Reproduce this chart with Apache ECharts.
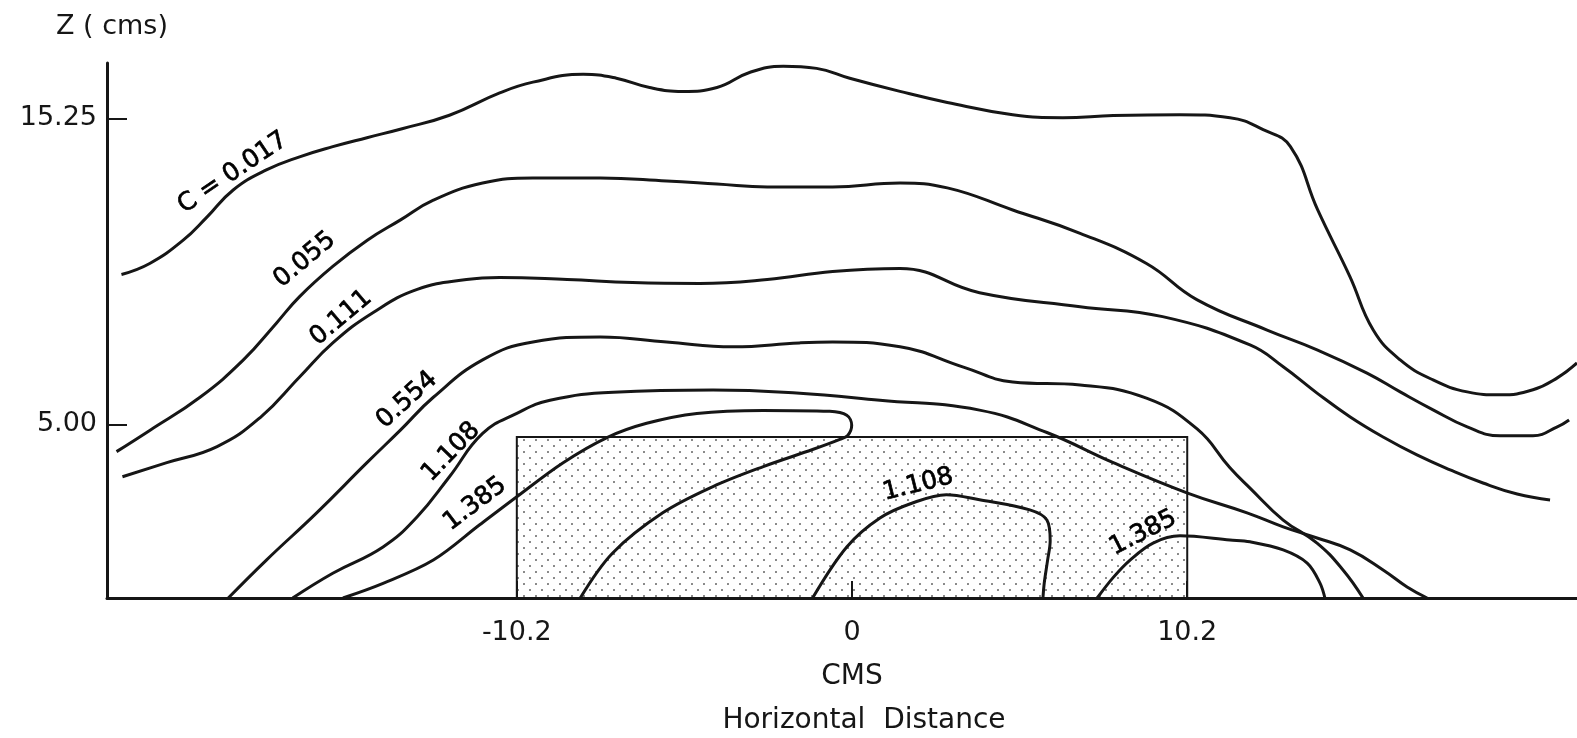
<!DOCTYPE html>
<html><head><meta charset="utf-8">
<script src="https://cdn.jsdelivr.net/npm/echarts@6/dist/echarts.min.js"></script>
<style>html,body{margin:0;padding:0;background:#fff}#c{width:1577px;height:738px}</style>
</head><body><div id="c"></div>
<script>
// ---- data (x: horizontal distance, cms; y: Z, cms) ----
const xTickValues = [-10.2, 0, 10.2];
const yTickValues = [5.00, 15.25];
const xRange = [-22.67, 22.06];
const yRange = [-0.81, 17.10];

const c0017 = [[-22.23,10.02],[-21.37,10.39],[-20.36,11.16],[-19.63,11.94],[-18.83,12.85],[-17.82,13.52],[-16.81,13.96],[-15.80,14.30],[-14.76,14.60],[-13.69,14.90],[-12.25,15.35],[-10.72,16.10],[-9.71,16.46],[-8.18,16.72],[-7.17,16.59],[-6.16,16.28],[-5.15,16.15],[-4.11,16.28],[-3.10,16.79],[-2.09,16.99],[-1.08,16.92],[-0.07,16.59],[1.46,16.15],[2.90,15.78],[4.89,15.37],[6.42,15.27],[7.95,15.34],[9.97,15.37],[11.50,15.27],[12.51,14.87],[13.34,14.30],[14.17,12.18],[15.15,9.95],[15.86,8.16],[16.68,7.16],[17.68,6.49],[18.72,6.09],[19.72,5.99],[20.72,6.16],[21.46,6.56],[22.06,7.06]];
const c0055 = [[-22.38,4.09],[-21.37,4.80],[-19.84,5.91],[-18.52,7.16],[-17.51,8.40],[-16.81,9.28],[-15.80,10.29],[-14.76,11.16],[-13.75,11.84],[-12.74,12.51],[-11.24,13.08],[-9.71,13.25],[-7.66,13.25],[-5.64,13.15],[-4.11,13.05],[-2.58,12.95],[-0.59,12.95],[1.46,13.08],[2.90,12.92],[4.89,12.18],[6.94,11.40],[8.96,10.39],[10.49,9.18],[12.63,8.16],[14.15,7.50],[15.67,6.72],[16.68,6.09],[17.68,5.49],[18.72,4.92],[19.72,4.62],[20.72,4.62],[21.46,4.92],[21.82,5.15]];
const c0111 = [[-22.20,3.25],[-20.85,3.72],[-19.32,4.26],[-18.00,5.24],[-16.81,6.59],[-15.80,7.73],[-14.58,8.74],[-13.23,9.52],[-11.73,9.85],[-10.72,9.92],[-8.67,9.85],[-6.68,9.75],[-4.63,9.72],[-2.58,9.85],[-0.59,10.12],[1.46,10.22],[3.88,9.41],[6.94,8.94],[9.45,8.61],[12.11,7.66],[13.12,6.93],[14.15,6.05],[15.16,5.25],[16.16,4.58],[17.19,3.98],[18.20,3.48],[19.20,3.04],[20.24,2.67],[21.24,2.47]];
const c0554 = [[-18.98,-0.81],[-17.82,0.46],[-16.29,2.04],[-14.76,3.72],[-13.75,4.80],[-12.74,5.91],[-11.24,7.16],[-9.71,7.76],[-7.66,7.93],[-5.64,7.76],[-3.62,7.60],[-1.60,7.73],[-0.59,7.76],[1.46,7.60],[3.39,6.92],[4.89,6.42],[6.94,6.32],[8.96,5.88],[10.50,4.85],[11.50,3.55],[12.11,2.87],[13.12,1.80],[14.15,1.03],[14.94,0.13],[15.55,-0.81]];
const c1108outer = [[-17.02,-0.81],[-15.80,0.02],[-14.27,0.90],[-13.23,1.91],[-12.25,3.25],[-11.24,4.70],[-10.20,5.37],[-9.19,5.81],[-7.26,6.08],[-4.23,6.15],[-1.69,6.05],[0.85,5.81],[3.88,5.48],[5.93,4.73],[7.95,3.72],[10.19,2.71],[12.02,2.04],[13.12,1.57],[14.15,1.20],[15.16,0.80],[16.16,0.13],[16.89,-0.44],[17.50,-0.81]];
const c1385loop = [[-15.49,-0.81],[-14.27,-0.32],[-12.74,0.46],[-11.33,1.64],[-10.20,2.58],[-8.79,3.72],[-7.44,4.57],[-6.25,5.04],[-4.72,5.37],[-2.70,5.47],[-0.68,5.44],[-0.16,5.31],[-0.01,4.97],[-0.13,4.63],[-0.37,4.50],[-1.20,4.16],[-2.70,3.59],[-4.23,2.92],[-5.76,2.04],[-7.29,0.69],[-8.27,-0.81]];
const c1108inner = [[-1.20,-0.81],[-0.16,0.90],[0.85,1.87],[1.86,2.38],[2.87,2.65],[3.88,2.48],[5.41,2.14],[5.93,1.80],[6.03,1.11],[5.95,0.45],[5.85,-0.30],[5.81,-0.81]];
const c1385right = [[7.46,-0.81],[7.95,-0.12],[8.46,0.46],[9.16,1.03],[9.98,1.27],[11.50,1.13],[12.11,1.07],[13.12,0.80],[13.85,0.36],[14.24,-0.31],[14.39,-0.81]];

const sourceBox = [[-10.2, 10.2, 4.58]];   // x from, x to, top Z

const contourLabelText = ['C = 0.017','0.055','0.111','0.554','1.108','1.385','1.108','1.385'];
const contourLabelPos = [[-18.84,13.42],[-16.65,10.51],[-15.55,8.57],[-13.54,5.82],[-12.20,4.08],[-11.47,2.34],[2.01,2.98],[8.86,1.37]];
const contourLabelAngle = [34,40,40,42,46,37,14,27];

// ---- chart ----
const INK = '#161616';
const FONT = 'DejaVu Sans';

function makeStipple(){
  const cv = document.createElement('canvas');
  cv.width = 12; cv.height = 12;
  const g = cv.getContext('2d');
  g.fillStyle = '#5a5a5a';
  [[2,2],[8,8]].forEach(function(p){ g.beginPath(); g.arc(p[0],p[1],0.95,0,Math.PI*2); g.fill(); });
  return cv;
}
const stipple = makeStipple();

const openCurves = [c0017, c0055, c0111, c0554, c1108outer];
const loopCurves = [c1385loop, c1108inner, c1385right];

const series = [{
  type: 'custom', z: 1, silent: true, data: sourceBox,
  renderItem: function(params, api){
    const tl = api.coord([api.value(0), api.value(2)]);
    const br = api.coord([api.value(1), yRange[0]]);
    return {type:'rect', shape:{x:tl[0], y:tl[1], width:br[0]-tl[0], height:br[1]-tl[1]},
      style:{fill:{image: stipple, repeat:'repeat'}, stroke: INK, lineWidth: 2}};
  }
}];
openCurves.forEach(function(d){
  series.push({type:'line', data:d, showSymbol:false, symbol:'none', smooth:0.45, z:3, silent:true,
    lineStyle:{color:INK, width:3}});
});
loopCurves.forEach(function(d){
  series.push({type:'line', data:d, showSymbol:false, symbol:'none', smooth:0.35, z:3, silent:true,
    lineStyle:{color:INK, width:3}});
});
series.push({
  type:'scatter', symbolSize:0, z:4, silent:true,
  itemStyle:{color:'#000', opacity:1},
  data: contourLabelPos.map(function(p,i){
    return {value:p, label:{show:true, formatter:contourLabelText[i], rotate:contourLabelAngle[i],
      position:'inside', align:'center', verticalAlign:'middle', fontSize:25, color:'#000', opacity:1,
      textBorderWidth:0.7, textBorderColor:'#000', fontFamily:FONT}};
  })
});

const chart = echarts.init(document.getElementById('c'), null, {renderer:'canvas'});
chart.setOption({
  animation:false,
  backgroundColor:'#fff',
  grid:{left:107, right:0, top:63, bottom:140, containLabel:false},
  xAxis:{type:'value', min:xRange[0], max:xRange[1],
    axisLine:{show:true, onZero:false, lineStyle:{color:INK, width:3}},
    splitLine:{show:false},
    axisTick:{show:true, inside:true, length:17, customValues:xTickValues, lineStyle:{color:INK, width:2}},
    axisLabel:{show:true, customValues:xTickValues, margin:21, fontSize:27, color:INK, fontFamily:FONT,
      formatter:function(v){ return v === 0 ? '0' : v.toFixed(1); }}
  },
  yAxis:{type:'value', min:yRange[0], max:yRange[1],
    axisLine:{show:true, onZero:false, lineStyle:{color:INK, width:3}},
    splitLine:{show:false},
    axisTick:{show:true, inside:true, length:20, customValues:yTickValues, lineStyle:{color:INK, width:2}},
    axisLabel:{show:true, customValues:yTickValues, margin:10, fontSize:27, color:INK, fontFamily:FONT,
      formatter:function(v){ return v.toFixed(2); }}
  },
  graphic:[
    {type:'text', x:112, y:27, style:{text:'Z ( cms)', fontSize:27, fontFamily:FONT, fill:INK, align:'center', verticalAlign:'middle', textAlign:'center', textVerticalAlign:'middle'}},
    {type:'text', x:852, y:677, style:{text:'CMS', fontSize:28, fontFamily:FONT, fill:INK, align:'center', verticalAlign:'middle', textAlign:'center', textVerticalAlign:'middle'}},
    {type:'text', x:864, y:721, style:{text:'Horizontal  Distance', fontSize:28, fontFamily:FONT, fill:INK, align:'center', verticalAlign:'middle', textAlign:'center', textVerticalAlign:'middle'}}
  ],
  series: series
});
</script>
</body></html>
